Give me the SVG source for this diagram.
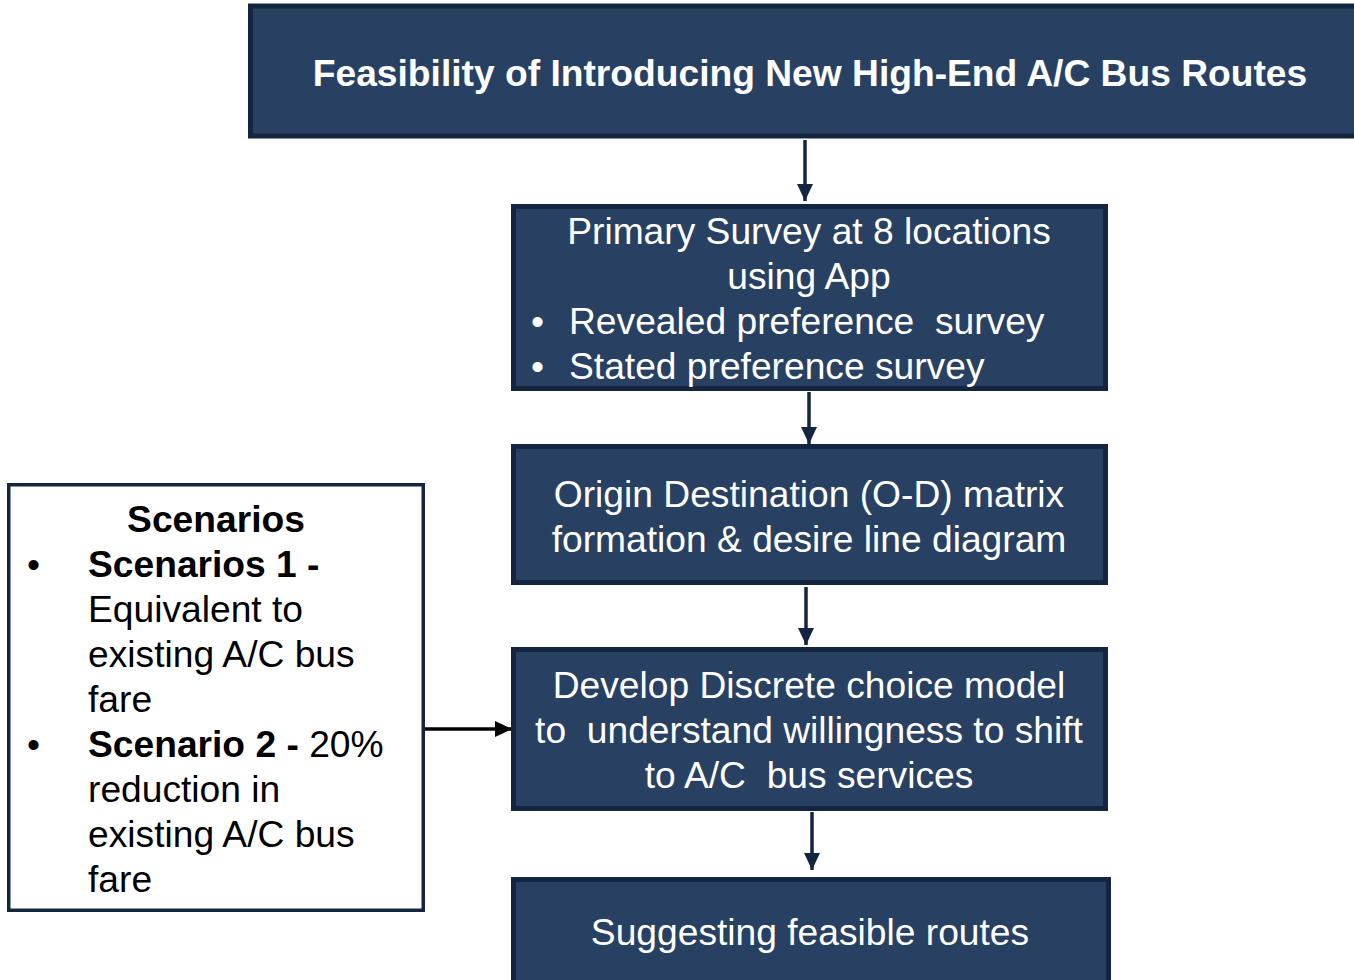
<svg xmlns="http://www.w3.org/2000/svg" width="1354" height="980" viewBox="0 0 1354 980">
  <style>
    .box { fill: #284162; stroke: #13253f; stroke-width: 5; }
    .side { fill: #ffffff; stroke: #13253f; stroke-width: 3.5; }
    .wt { font-family: "Liberation Sans", Arial, sans-serif; font-size: 37.2px; fill: #ffffff; white-space: pre; }
    .bt { font-family: "Liberation Sans", Arial, sans-serif; font-size: 37.2px; fill: #000000; white-space: pre; }
    .b { font-weight: bold; }
    .mid { text-anchor: middle; }
    .conn { stroke: #13253f; stroke-width: 3.5; fill: none; }
    .connk { stroke: #000000; stroke-width: 3.5; fill: none; }
  </style>
  <defs>
    <marker id="ah" markerUnits="userSpaceOnUse" markerWidth="18" markerHeight="18" refX="17" refY="8" orient="auto">
      <path d="M0,0 L17,8 L0,16 Z" fill="#13253f"/>
    </marker>
    <marker id="ahk" markerUnits="userSpaceOnUse" markerWidth="18" markerHeight="18" refX="17" refY="8" orient="auto">
      <path d="M0,0 L17,8 L0,16 Z" fill="#000000"/>
    </marker>
  </defs>
  <rect width="1354" height="980" fill="#ffffff"/>

  <g id="connectors">
    <line class="conn" x1="805" y1="140" x2="805" y2="201" marker-end="url(#ah)"/>
    <line class="conn" x1="809" y1="392" x2="809" y2="444" marker-end="url(#ah)"/>
    <line class="conn" x1="806" y1="587" x2="806" y2="645" marker-end="url(#ah)"/>
    <line class="conn" x1="812" y1="812" x2="812" y2="870" marker-end="url(#ah)"/>
    <line class="connk" x1="425" y1="729" x2="512" y2="729" marker-end="url(#ahk)"/>
  </g>

  <g id="title">
    <rect class="box" x="250.5" y="6" width="1115" height="130"/>
    <text class="wt b mid" x="810" y="86" font-size="37.7">Feasibility of Introducing New High-End A/C Bus Routes</text>
  </g>

  <g id="primary-survey">
    <rect class="box" x="513.5" y="206.5" width="592" height="182"/>
    <text class="wt mid" x="809" y="244">Primary Survey at 8 locations</text>
    <text class="wt mid" x="809" y="289">using App</text>
    <text class="wt" x="531" y="334">•</text>
    <text class="wt" x="569" y="334">Revealed preference  survey</text>
    <text class="wt" x="531" y="379">•</text>
    <text class="wt" x="569" y="379">Stated preference survey</text>
  </g>

  <g id="od-matrix">
    <rect class="box" x="513.5" y="446.5" width="592" height="136"/>
    <text class="wt mid" x="809" y="507">Origin Destination (O-D) matrix</text>
    <text class="wt mid" x="809" y="552">formation &amp; desire line diagram</text>
  </g>

  <g id="discrete-choice">
    <rect class="box" x="513.5" y="649.5" width="592" height="159"/>
    <text class="wt mid" x="809" y="698">Develop Discrete choice model</text>
    <text class="wt mid" x="809" y="743">to  understand willingness to shift</text>
    <text class="wt mid" x="809" y="788">to A/C  bus services</text>
  </g>

  <g id="feasible-routes">
    <rect class="box" x="513.5" y="879.5" width="595" height="120"/>
    <text class="wt mid" x="810" y="945">Suggesting feasible routes</text>
  </g>

  <g id="scenarios">
    <rect class="side" x="8.75" y="484.75" width="414.5" height="425.5"/>
    <text class="bt b mid" x="216" y="532">Scenarios</text>
    <text class="bt" x="27" y="577">•</text>
    <text class="bt b" x="88" y="577">Scenarios 1 -</text>
    <text class="bt" x="88" y="622">Equivalent to</text>
    <text class="bt" x="88" y="667">existing A/C bus</text>
    <text class="bt" x="88" y="712">fare</text>
    <text class="bt" x="27" y="757">•</text>
    <text class="bt" x="88" y="757"><tspan class="b">Scenario 2 - </tspan>20%</text>
    <text class="bt" x="88" y="802">reduction in</text>
    <text class="bt" x="88" y="847">existing A/C bus</text>
    <text class="bt" x="88" y="892">fare</text>
  </g>
</svg>
